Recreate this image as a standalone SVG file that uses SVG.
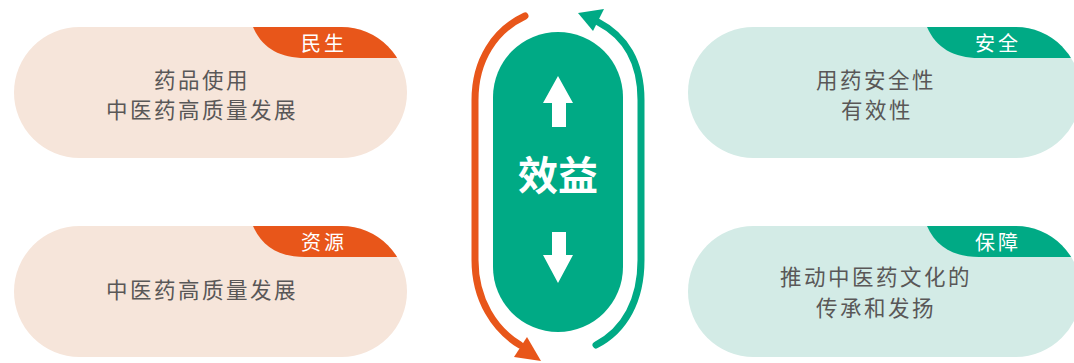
<svg xmlns="http://www.w3.org/2000/svg" width="1074" height="363" viewBox="0 0 1074 363">
<style>
.txt{font-family:"Noto Sans CJK SC","Noto Sans",sans-serif;font-size:21.5px;fill:#595757;text-anchor:middle;letter-spacing:2.5px}
.tag{font-family:"Noto Sans CJK SC","Noto Sans",sans-serif;font-size:20px;fill:#ffffff;text-anchor:middle;letter-spacing:3px}
.big{font-family:"Noto Sans CJK SC","Noto Sans",sans-serif;font-size:40px;font-weight:bold;fill:#ffffff;text-anchor:middle}
.po{fill:#f6e5da}
.pg{fill:#d3ebe6}
.to{fill:#e8561a}
.tg{fill:#00aa85}
.conn{fill:none;stroke-width:7;stroke-linecap:round}
</style>
<defs>
<clipPath id="c1"><rect x="14" y="27" width="393" height="131" rx="65.5"/></clipPath>
<clipPath id="c2"><rect x="14" y="226" width="393" height="131" rx="65.5"/></clipPath>
<clipPath id="c3"><rect x="688" y="27" width="393" height="131" rx="65.5"/></clipPath>
<clipPath id="c4"><rect x="688" y="226" width="393" height="131" rx="65.5"/></clipPath>
</defs>
<g id="node-minsheng">
<rect class="po" x="14" y="27" width="393" height="131" rx="65.5"/>
<path class="to" clip-path="url(#c1)" d="M253 27 C262 48 280 58 305 58 L420 58 L420 27 Z"/>
<text class="tag" x="324" y="51">民生</text>
<text class="txt" x="202" y="88">药品使用</text>
<text class="txt" x="202" y="118">中医药高质量发展</text>
</g>
<g id="node-ziyuan">
<rect class="po" x="14" y="226" width="393" height="131" rx="65.5"/>
<path class="to" clip-path="url(#c2)" d="M253 226 C262 247 280 257 305 257 L420 257 L420 226 Z"/>
<text class="tag" x="324" y="250">资源</text>
<text class="txt" x="202" y="298">中医药高质量发展</text>
</g>
<g id="node-anquan">
<rect class="pg" x="688" y="27" width="393" height="131" rx="65.5"/>
<path class="tg" clip-path="url(#c3)" d="M927 27 C936 48 954 58 979 58 L1094 58 L1094 27 Z"/>
<text class="tag" x="998" y="51">安全</text>
<text class="txt" x="876" y="88">用药安全性</text>
<text class="txt" x="877" y="118">有效性</text>
</g>
<g id="node-baozhang">
<rect class="pg" x="688" y="226" width="393" height="131" rx="65.5"/>
<path class="tg" clip-path="url(#c4)" d="M927 226 C936 247 954 257 979 257 L1094 257 L1094 226 Z"/>
<text class="tag" x="998" y="250">保障</text>
<text class="txt" x="876" y="285">推动中医药文化的</text>
<text class="txt" x="876" y="316">传承和发扬</text>
</g>
<g id="node-xiaoyi">
<rect class="tg" x="493" y="32" width="130" height="300" rx="65"/>
<polygon fill="#ffffff" points="558,76 573,103 566,103 566,127 552,127 552,103 543,103"/>
<text class="big" x="558" y="190">效益</text>
<polygon fill="#ffffff" points="552,232 566,232 566,255 573,255 558,283 543,255 552,255"/>
</g>
<g id="connectors">
<path class="conn" stroke="#e8561a" d="M525 16 C495 30 475 60 475 100 L475 260 C475 300 495 330 520 345"/>
<polygon fill="#e8561a" points="527,337 514,357 541,361"/>
<path class="conn" stroke="#00aa85" d="M596 345 C625 330 641 300 641 260 L641 100 C641 62 625 36 598 22"/>
<polygon fill="#00aa85" points="578,13 604,9 593,31"/>
</g>
</svg>
